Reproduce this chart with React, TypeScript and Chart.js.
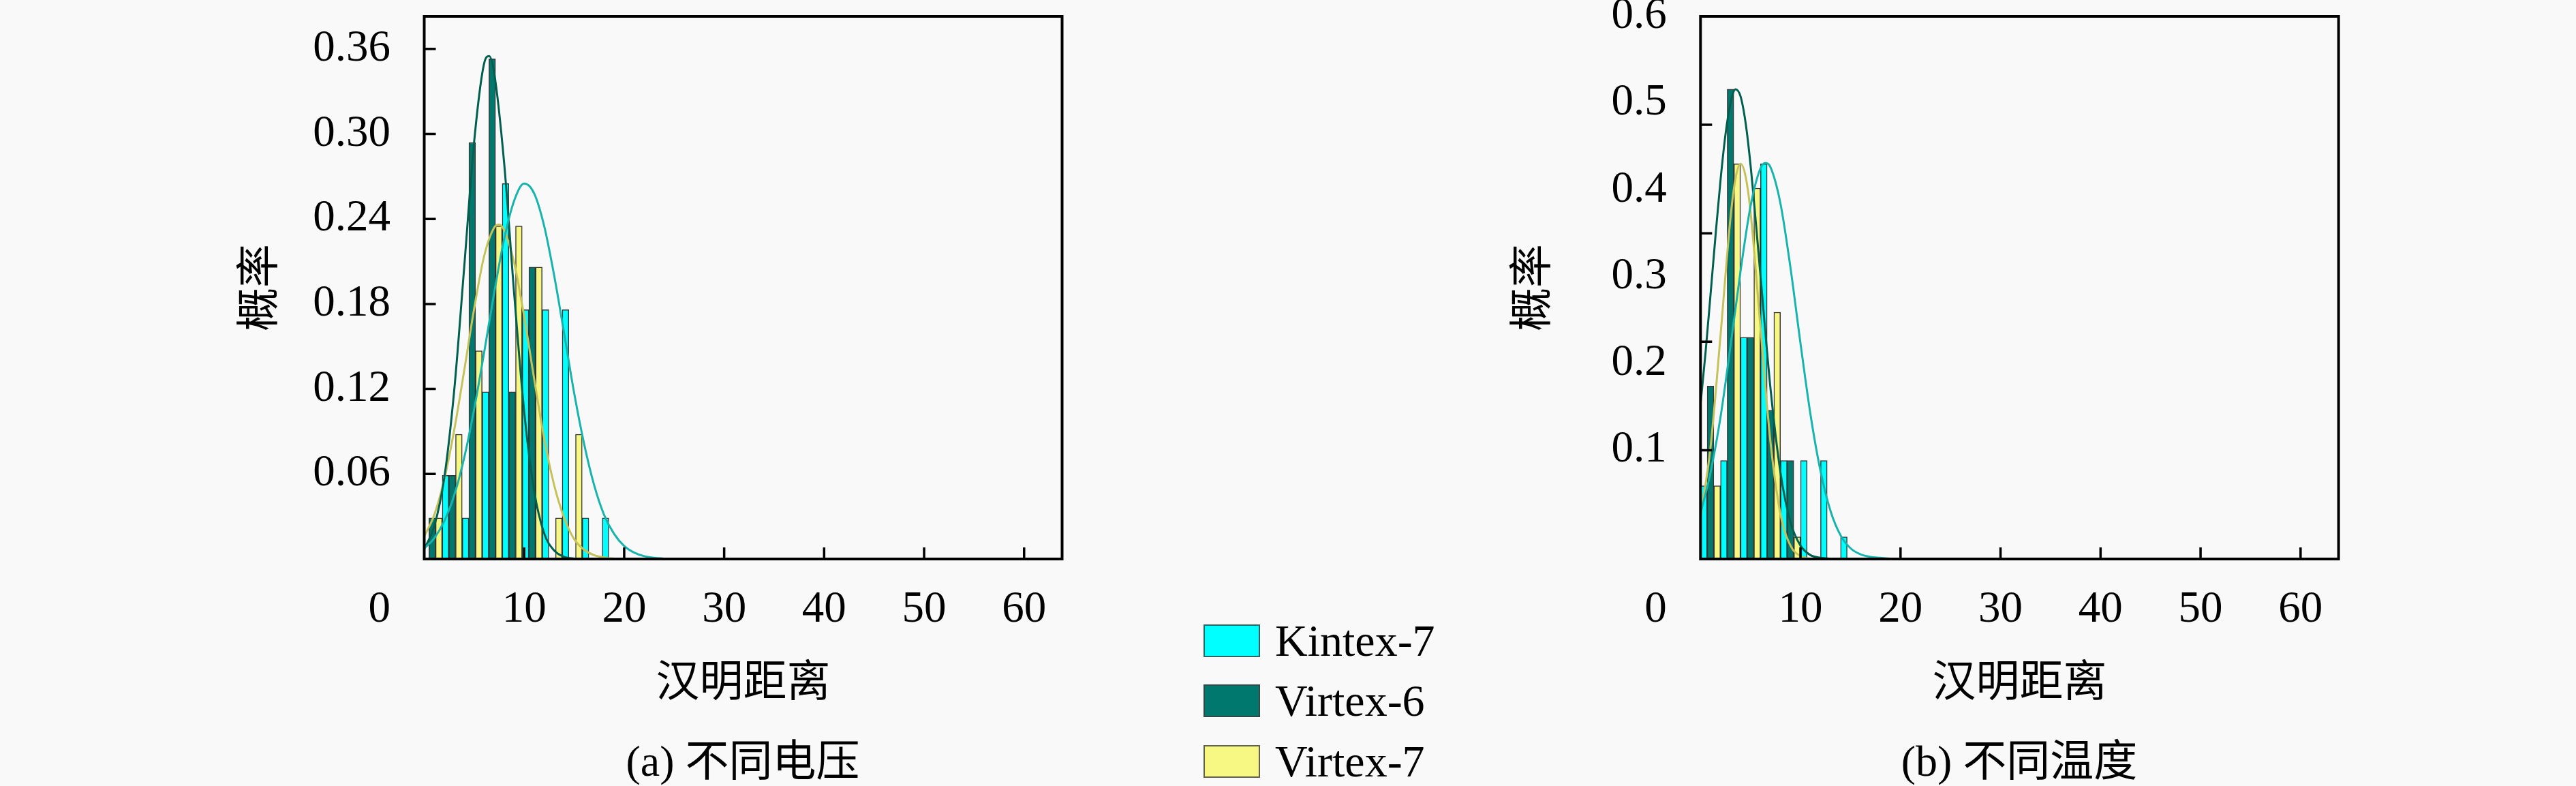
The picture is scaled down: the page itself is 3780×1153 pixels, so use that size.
import { useEffect, useRef } from 'react';
import { Chart, registerables } from 'chart.js';

Chart.register(...registerables);

const SERIES = ['Kintex-7', 'Virtex-6', 'Virtex-7'];
const BAR_COLORS = ['#00ffff', '#00786e', '#f7f783'];
const CURVE_COLORS = ['#17b4ae', '#005f4f', '#c6c25a'];

const xTicks = [10, 20, 30, 40, 50, 60];

// (a) 不同电压
const voltBins = [0.8, 2.8, 4.8, 6.8, 8.8, 10.8, 12.8, 14.8, 16.8, 18.8];
const voltKintex7 = [null, 0.059, 0.029, 0.118, 0.265, 0.176, 0.176, 0.176, 0.029, 0.029];
const voltVirtex6 = [0.029, 0.059, 0.294, 0.353, 0.118, 0.206, null, null, null, null];
const voltVirtex7 = [0.029, 0.088, 0.147, 0.235, 0.235, 0.206, 0.029, 0.088, null, null];

const voltKintex7FitX = [0, 1, 2, 3, 4, 5, 6, 7, 8, 9, 10, 11, 12, 13, 14, 15, 16, 17, 18, 19, 20, 21, 22, 23, 24];
const voltKintex7FitY = [0.0075, 0.0146, 0.0266, 0.045, 0.0715, 0.106, 0.146, 0.188, 0.226, 0.253, 0.265, 0.258, 0.235, 0.2, 0.159, 0.117, 0.081, 0.052, 0.031, 0.0176, 0.0092, 0.0045, 0.002, 0.0009, 0.0003];
const voltVirtex6FitX = [0, 1, 2, 3, 4, 5, 6, 6.5, 7, 8, 9, 10, 11, 12, 13, 14, 15, 16];
const voltVirtex6FitY = [0.007, 0.023, 0.057, 0.119, 0.206, 0.295, 0.35, 0.355, 0.343, 0.279, 0.187, 0.104, 0.048, 0.018, 0.006, 0.0015, 0.0003, 0];
const voltVirtex7FitX = [0, 1, 2, 3, 4, 5, 6, 7, 7.5, 8, 9, 10, 11, 12, 13, 14, 15, 16, 17, 18, 19, 20];
const voltVirtex7FitY = [0.016, 0.031, 0.056, 0.091, 0.133, 0.177, 0.214, 0.234, 0.236, 0.232, 0.209, 0.171, 0.127, 0.085, 0.052, 0.029, 0.014, 0.0065, 0.0027, 0.001, 0.0003, 0];

const voltYTicks = [0.06, 0.12, 0.18, 0.24, 0.3, 0.36];

// (b) 不同温度
const tempBins = [1, 3, 5, 7, 9, 11, 13, 15];
const tempKintex7 = [0.059, 0.088, 0.23, 0.43, 0.088, 0.088, 0.088, 0];
const tempVirtex6 = [0.174, 0.516, 0.23, 0.146, 0.088, null, null, null];
const tempVirtex7 = [0.059, 0.43, 0.402, 0.259, 0, null, null, null];

const tempKintex7FitX = [0, 1, 2, 3, 4, 5, 6, 6.5, 7, 8, 9, 10, 11, 12, 13, 14, 15, 16, 17, 18, 19, 20];
const tempKintex7FitY = [0.027, 0.074, 0.138, 0.22, 0.306, 0.381, 0.425, 0.431, 0.426, 0.384, 0.31, 0.223, 0.141, 0.076, 0.03, 0.002, -0.013, -0.02, -0.023, -0.024, -0.025, -0.025];
const tempVirtex6FitX = [0, 0.5, 1, 1.5, 2, 2.5, 3, 3.5, 4, 4.5, 5, 6, 7, 8, 9, 10, 11, 12, 13];
const tempVirtex6FitY = [0.153, 0.212, 0.279, 0.347, 0.411, 0.464, 0.5, 0.516, 0.508, 0.478, 0.429, 0.301, 0.171, 0.074, 0.017, -0.01, -0.021, -0.024, -0.025];
const tempVirtex7FitX = [0, 1, 2, 3, 3.5, 4, 4.5, 5, 6, 7, 8, 9, 10, 11];
const tempVirtex7FitY = [0.023, 0.103, 0.232, 0.368, 0.413, 0.43, 0.416, 0.375, 0.241, 0.109, 0.026, -0.01, -0.022, -0.025];

const tempYTicks = [0.1, 0.2, 0.3, 0.4, 0.5, 0.6];
const tempYMarks = [0.1, 0.225, 0.35, 0.475];

const SERIF = "'Liberation Serif', 'Noto Sans CJK SC', serif";
const CJK = "'Noto Sans CJK SC', sans-serif";
const TICK_SIZE = 65;
const H = 1153;

// frame, inward tick marks and the lone "0" under the y labels
const framePlugin = {
  id: 'frame',
  afterDraw(chart: any, _args: any, opts: any) {
    const { ctx, chartArea: a, scales } = chart;
    const x = scales.x;
    const y = scales.y;
    ctx.save();
    ctx.strokeStyle = '#000';
    ctx.lineWidth = 3.5;
    ctx.beginPath();
    for (const v of opts.yMarks) {
      const py = y.getPixelForValue(v);
      ctx.moveTo(a.left, py);
      ctx.lineTo(a.left + 17, py);
    }
    for (const v of xTicks) {
      const px = x.getPixelForValue(v);
      ctx.moveTo(px, a.bottom);
      ctx.lineTo(px, a.bottom - 17);
    }
    ctx.stroke();
    ctx.lineWidth = 4;
    ctx.strokeRect(a.left, a.top, a.right - a.left, a.bottom - a.top);
    ctx.fillStyle = '#000';
    ctx.font = `${TICK_SIZE}px ${SERIF}`;
    ctx.textAlign = 'right';
    ctx.textBaseline = 'middle';
    ctx.fillText('0', y.right - 49.5, a.bottom + 74.5);
    ctx.restore();
  },
};

type PanelProps = {
  left: number;
  width: number;
  plotRight: number;
  yAxisWidth: number;
  yTitlePad: number;
  bins: number[];
  bars: (number | null)[][];
  fitsX: number[][];
  fitsY: number[][];
  yMin: number;
  yMax: number;
  yTicks: number[];
  yMarks: number[];
  yDigits: number;
};

function HistPanel(p: PanelProps) {
  const canvasRef = useRef<HTMLCanvasElement>(null);
  const chartRef = useRef<Chart | null>(null);

  useEffect(() => {
    if (!canvasRef.current) return;
    chartRef.current?.destroy();

    const barSets = SERIES.map((name, i) => ({
      type: 'bar' as const,
      label: name,
      data: p.bins.map((x, j) => ({ x, y: p.bars[i][j] })),
      backgroundColor: BAR_COLORS[i],
      borderColor: 'rgba(20,20,20,0.85)',
      borderWidth: 1.5,
      borderSkipped: 'bottom' as const,
      categoryPercentage: 1,
      barPercentage: 1,
      base: p.yMin,
      order: 2,
    }));
    const fitSets = SERIES.map((name, i) => ({
      type: 'line' as const,
      label: name + ' fit',
      data: p.fitsX[i].map((x, j) => ({ x, y: p.fitsY[i][j] })),
      borderColor: CURVE_COLORS[i],
      borderWidth: 3,
      pointRadius: 0,
      fill: false,
      cubicInterpolationMode: 'monotone' as const,
      order: 1,
    }));

    chartRef.current = new Chart(canvasRef.current, {
      type: 'bar',
      data: { datasets: [...barSets, ...fitSets] as any },
      plugins: [framePlugin],
      options: {
        responsive: false,
        animation: false,
        devicePixelRatio: 1,
        events: [],
        layout: { padding: { left: 0, top: 24, right: p.width - p.plotRight, bottom: 0 } },
        plugins: {
          legend: { display: false },
          tooltip: { enabled: false },
          frame: { yMarks: p.yMarks },
        } as any,
        scales: {
          x: {
            type: 'linear',
            offset: false,
            min: 0,
            max: 63.8,
            grid: { display: false, drawTicks: false, offset: false },
            border: { display: false },
            afterBuildTicks: (axis: any) => {
              axis.ticks = xTicks.map((value) => ({ value }));
            },
            afterFit: (s: any) => {
              s.height = H - 820;
              s.paddingLeft = 0;
              s.paddingRight = 0;
            },
            ticks: {
              color: '#000',
              padding: 35.5,
              maxRotation: 0,
              font: { family: SERIF, size: TICK_SIZE },
              callback: (v: any) => String(v),
            },
            title: {
              display: true,
              text: '汉明距离',
              color: '#000',
              font: { family: CJK, size: 64 },
              padding: { top: 0, bottom: 117.6 },
            },
          },
          y: {
            type: 'linear',
            min: p.yMin,
            max: p.yMax,
            grid: { display: false, drawTicks: false },
            border: { display: false },
            afterBuildTicks: (axis: any) => {
              axis.ticks = p.yTicks.map((value) => ({ value }));
            },
            afterFit: (s: any) => {
              s.width = p.yAxisWidth;
              s.paddingTop = 0;
              s.paddingBottom = 0;
            },
            ticks: {
              color: '#000',
              padding: 49.5,
              font: { family: SERIF, size: TICK_SIZE },
              callback: (v: any) => Number(v).toFixed(p.yDigits),
            },
            title: {
              display: true,
              text: '概率',
              color: '#000',
              font: { family: CJK, size: 64 },
              padding: { top: p.yTitlePad, bottom: 0 },
            },
          },
        },
      } as any,
    });

    return () => {
      chartRef.current?.destroy();
    };
  }, []);

  return (
    <canvas
      ref={canvasRef}
      width={p.width}
      height={H}
      style={{ position: 'absolute', left: p.left, top: 0, width: p.width, height: H }}
    />
  );
}

function Legend() {
  return (
    <>
      {SERIES.map((name, i) => (
        <div
          key={name}
          style={{
            position: 'absolute',
            left: 1766,
            top: 916 + i * 88.3,
            height: 48,
            display: 'flex',
            alignItems: 'center',
            whiteSpace: 'nowrap',
          }}
        >
          <div
            style={{
              width: 83,
              height: 48,
              boxSizing: 'border-box',
              background: BAR_COLORS[i],
              border: '2px solid rgba(60,60,60,0.8)',
            }}
          />
          <span style={{ marginLeft: 22, fontFamily: SERIF, fontSize: 66, color: '#000', lineHeight: 1 }}>
            {name}
          </span>
        </div>
      ))}
    </>
  );
}

function Caption({ text, cx }: { text: string; cx: number }) {
  return (
    <div
      style={{
        position: 'absolute',
        left: cx,
        top: 1117,
        transform: 'translate(-50%, -50%)',
        fontFamily: SERIF,
        fontSize: 64,
        color: '#000',
        whiteSpace: 'nowrap',
        lineHeight: 1,
      }}
    >
      {text}
    </div>
  );
}

export default function App() {
  return (
    <div
      style={{
        position: 'absolute',
        left: 0,
        top: 0,
        width: 3780,
        height: H,
        overflow: 'hidden',
        background: '#f9f9f9',
      }}
    >
      <HistPanel
        left={0}
        width={1640}
        plotRight={1558.5}
        yAxisWidth={622.5}
        yTitlePad={338.6}
        bins={voltBins}
        bars={[voltKintex7, voltVirtex6, voltVirtex7]}
        fitsX={[voltKintex7FitX, voltVirtex6FitX, voltVirtex7FitX]}
        fitsY={[voltKintex7FitY, voltVirtex6FitY, voltVirtex7FitY]}
        yMin={0}
        yMax={0.383}
        yTicks={voltYTicks}
        yMarks={voltYTicks}
        yDigits={2}
      />
      <HistPanel
        left={1873}
        width={1907}
        plotRight={1558.6}
        yAxisWidth={622.3}
        yTitlePad={333.6}
        bins={tempBins}
        bars={[tempKintex7, tempVirtex6, tempVirtex7]}
        fitsX={[tempKintex7FitX, tempVirtex6FitX, tempVirtex7FitX]}
        fitsY={[tempKintex7FitY, tempVirtex6FitY, tempVirtex7FitY]}
        yMin={-0.0254}
        yMax={0.6}
        yTicks={tempYTicks}
        yMarks={tempYMarks}
        yDigits={1}
      />
      <Legend />
      <Caption text="(a) 不同电压" cx={1090} />
      <Caption text="(b) 不同温度" cx={2963} />
    </div>
  );
}
